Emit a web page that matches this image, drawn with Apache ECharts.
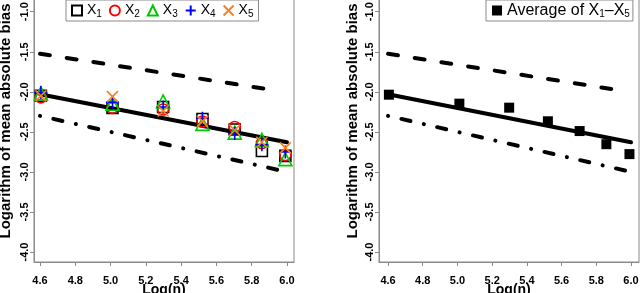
<!DOCTYPE html>
<html><head><meta charset="utf-8">
<script src="https://cdn.jsdelivr.net/npm/echarts@6/dist/echarts.min.js"></script>
<style>html,body{margin:0;padding:0;background:#fff}#c{width:640px;height:293px}</style>
</head><body><div id="c"></div>
<script>
const logN = [4.605, 5.011, 5.298, 5.521, 5.704, 5.858, 5.991];
const x1 = [-2.05, -2.20, -2.19, -2.34, -2.47, -2.74, -2.80];
const x2 = [-2.07, -2.20, -2.22, -2.37, -2.44, -2.64, -2.79];
const x3 = [-2.02, -2.15, -2.12, -2.40, -2.51, -2.60, -2.84];
const x4 = [-2.01, -2.13, -2.19, -2.33, -2.52, -2.66, -2.75];
const x5 = [-2.05, -2.06, -2.24, -2.37, -2.48, -2.63, -2.70];
const avg = [-2.036, -2.148, -2.198, -2.368, -2.490, -2.654, -2.778];
const fitX = [4.6, 6.0], fitY = [-2.03, -2.63];
const upperX = [4.6, 5.9], upperY = [-1.525, -1.97];
const lowerX = [4.6, 6.0], lowerY = [-2.30, -3.00];
const xTicks = [4.6, 4.8, 5.0, 5.2, 5.4, 5.6, 5.8, 6.0];
const yTicks = [-4.0, -3.5, -3.0, -2.5, -2.0, -1.5, -1.0];
const seriesNames = ['X1', 'X2', 'X3', 'X4', 'X5'];
const avgName = 'Average of X1\u2013X5';

const zip = (xs, ys) => xs.map((x, i) => [x, ys[i]]);
const FONT = 'Liberation Sans, Arial, sans-serif';
const AX = '#8a8a8a';

function xAxis(gi, min, max) {
  return {
    type: 'value', gridIndex: gi, min: min, max: max,
    axisLine: { show: true, onZero: false, lineStyle: { color: AX, width: 1 } },
    axisTick: { show: true, customValues: xTicks, length: 4, lineStyle: { color: AX } },
    axisLabel: { customValues: xTicks, formatter: v => v.toFixed(1), fontFamily: FONT, fontWeight: 'bold', fontSize: 11, color: '#000', margin: 9, padding: [4, 0, 0, 0] },
    splitLine: { show: false },
    name: 'Log(n)', nameLocation: 'middle', nameGap: 21, nameMoveOverlap: false,
    nameTextStyle: { fontFamily: FONT, fontWeight: 'bold', fontSize: 14, color: '#000', verticalAlign: 'top' }
  };
}
function yAxis(gi, gap) {
  return {
    type: 'value', gridIndex: gi, min: -4.125, max: -0.604,
    axisLine: { show: true, onZero: false, lineStyle: { color: AX, width: 1 } },
    axisTick: { show: true, customValues: yTicks, length: 4, lineStyle: { color: AX } },
    axisLabel: { customValues: yTicks, formatter: v => v.toFixed(1), rotate: 90, fontFamily: FONT, fontWeight: 'bold', fontSize: 11, color: '#000', margin: 4 },
    splitLine: { show: false },
    name: 'Logarithm of mean absolute bias', nameLocation: 'middle', nameGap: gap, nameMoveOverlap: false,
    nameTextStyle: { fontFamily: FONT, fontWeight: 'bold', fontSize: 15, color: '#000' }
  };
}
function refLines(gi) {
  const base = { type: 'line', xAxisIndex: gi, yAxisIndex: gi, showSymbol: false, silent: true, z: 1, animation: false };
  return [
    Object.assign({}, base, { data: zip(fitX, fitY), lineStyle: { color: '#000', width: 4, type: 'solid', cap: 'round', opacity: 1 } }),
    Object.assign({}, base, { data: zip(upperX, upperY), lineStyle: { color: '#000', width: 4, type: [10, 17], cap: 'round', opacity: 1 } }),
    Object.assign({}, base, { data: zip(lowerX, lowerY), lineStyle: { color: '#000', width: 4, type: [0.1, 13.6, 9.3, 13.7], cap: 'round', opacity: 1 } })
  ];
}
const plusPath = 'path://M5,0L5,10M0,5L10,5';
const crossPath = 'path://M0,0L10,10M0,10L10,0';
const pointStyles = [
  { symbol: 'rect', color: '#000000', size: 11 },
  { symbol: 'circle', color: '#ff0000', size: 11 },
  { symbol: 'triangle', color: '#00c800', size: 13 },
  { symbol: plusPath, color: '#0000ff', size: 13 },
  { symbol: crossPath, color: '#ff7f1a', size: 11 }
];
const pointData = [x1, x2, x3, x4, x5];
const pointSeries = pointData.map((ys, k) => ({
  type: 'scatter', name: seriesNames[k], xAxisIndex: 0, yAxisIndex: 0, z: 2 + k,
  symbol: pointStyles[k].symbol, symbolSize: pointStyles[k].size,
  itemStyle: { color: 'rgba(0,0,0,0)', borderColor: pointStyles[k].color, borderWidth: 1.6, opacity: 1 },
  data: zip(logN, ys), animation: false
}));

function rich(fs, ss) {
  return {
    b: { fontFamily: FONT, fontSize: fs, color: '#000', lineHeight: 18 },
    s: { fontFamily: FONT, fontSize: ss, color: '#000', lineHeight: 18, padding: [7, 0, 0, 0] }
  };
}

const option = {
  backgroundColor: '#fff',
  animation: false,
  grid: [
    { left: 34, right: 346, top: -20, bottom: 31, show: true, borderColor: AX, borderWidth: 1, backgroundColor: 'transparent', outerBoundsMode: 'none', containLabel: false },
    { left: 379, right: 1, top: -20, bottom: 31, show: true, borderColor: AX, borderWidth: 1, backgroundColor: 'transparent', outerBoundsMode: 'none', containLabel: false }
  ],
  xAxis: [xAxis(0, 4.566, 6.040), xAxis(1, 4.548, 6.046)],
  yAxis: [yAxis(0, 21), yAxis(1, 19)],
  legend: [
    {
      data: seriesNames, left: 66, top: 0, orient: 'horizontal',
      itemWidth: 10, itemHeight: 10, itemGap: 7,
      borderColor: AX, borderWidth: 1, padding: [2, 5, 2, 5],
      formatter: n => '{b|X}{s|' + n.slice(1) + '}',
      textStyle: { rich: rich(14, 10) }
    },
    {
      data: [avgName], left: 486, top: 0,
      itemWidth: 10, itemHeight: 10,
      borderColor: AX, borderWidth: 1, padding: [2, 3, 2, 6],
      formatter: () => '{b|Average of X}{s|1}{b|\u2013X}{s|5}',
      textStyle: { rich: rich(16, 10) }
    }
  ],
  series: [
    ...refLines(0),
    ...pointSeries,
    ...refLines(1),
    {
      type: 'scatter', name: avgName, xAxisIndex: 1, yAxisIndex: 1, z: 3,
      symbol: 'rect', symbolSize: 10, itemStyle: { color: '#000', opacity: 1 },
      data: zip(logN, avg), animation: false
    }
  ]
};
const chart = echarts.init(document.getElementById('c'), null, { renderer: 'canvas' });
chart.setOption(option);
</script>
</body></html>
